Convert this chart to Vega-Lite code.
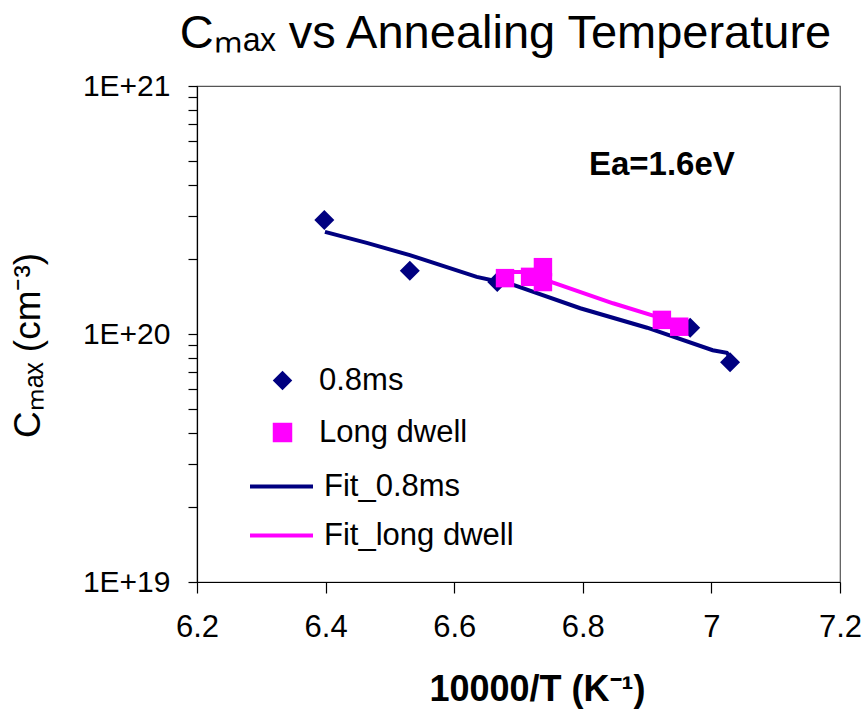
{
  "$schema": "https://vega.github.io/schema/vega-lite/v6.json",
  "width": 643,
  "height": 496,
  "autosize": "none",
  "padding": {"left": 197, "top": 86, "right": 27, "bottom": 130},
  "background": "white",
  "title": {
    "text": "Cₘₐₓ vs Annealing Temperature",
    "fontSize": 47,
    "font": "Liberation Sans",
    "fontWeight": "normal",
    "color": "#000",
    "anchor": "middle",
    "frame": "group",
    "baseline": "bottom",
    "dx": -13,
    "offset": -34
  },
  "config": {
    "font": "Liberation Sans",
    "view": {"stroke": "#555", "strokeWidth": 1.2},
    "axis": {"grid": false, "domainColor": "#000", "tickColor": "#000", "labelColor": "#000", "titleColor": "#000", "labelFont": "Liberation Sans", "titleFont": "Liberation Sans", "domainWidth": 1.2, "tickWidth": 1.2},
    "legend": {"labelFont": "Liberation Sans", "labelColor": "#000", "labelFontSize": 31, "labelLimit": 0, "title": null}
  },
  "datasets": {
    "pts": [
      {"x": 6.398, "c": 2.88e20, "series": "0.8ms"},
      {"x": 6.531, "c": 1.80e20, "series": "0.8ms"},
      {"x": 6.667, "c": 1.62e20, "series": "0.8ms"},
      {"x": 6.967, "c": 1.06e20, "series": "0.8ms"},
      {"x": 7.029, "c": 7.7e19, "series": "0.8ms"},
      {"x": 6.679, "c": 1.68e20, "series": "Long dwell"},
      {"x": 6.718, "c": 1.70e20, "series": "Long dwell"},
      {"x": 6.738, "c": 1.86e20, "series": "Long dwell"},
      {"x": 6.738, "c": 1.62e20, "series": "Long dwell"},
      {"x": 6.923, "c": 1.14e20, "series": "Long dwell"},
      {"x": 6.950, "c": 1.07e20, "series": "Long dwell"}
    ],
    "fits": [
      {"x": 6.399, "c": 2.58e20, "series": "Fit_0.8ms"},
      {"x": 6.464, "c": 2.33e20, "series": "Fit_0.8ms"},
      {"x": 6.531, "c": 2.08e20, "series": "Fit_0.8ms"},
      {"x": 6.635, "c": 1.70e20, "series": "Fit_0.8ms"},
      {"x": 6.691, "c": 1.58e20, "series": "Fit_0.8ms"},
      {"x": 6.796, "c": 1.27e20, "series": "Fit_0.8ms"},
      {"x": 6.900, "c": 1.06e20, "series": "Fit_0.8ms"},
      {"x": 7.002, "c": 8.6e19, "series": "Fit_0.8ms"},
      {"x": 7.024, "c": 8.4e19, "series": "Fit_0.8ms"},
      {"x": 7.030, "c": 8.0e19, "series": "Fit_0.8ms"},
      {"x": 6.679, "c": 1.78e20, "series": "Fit_long dwell"},
      {"x": 6.718, "c": 1.78e20, "series": "Fit_long dwell"},
      {"x": 6.754, "c": 1.61e20, "series": "Fit_long dwell"},
      {"x": 6.847, "c": 1.33e20, "series": "Fit_long dwell"},
      {"x": 6.908, "c": 1.19e20, "series": "Fit_long dwell"},
      {"x": 6.951, "c": 1.07e20, "series": "Fit_long dwell"}
    ],
    "notes": [
      {"x": 6.923, "c": 4.8e20, "label": "Ea=1.6eV"}
    ]
  },
  "encoding": {
    "x": {
      "field": "x", "type": "quantitative",
      "scale": {"domain": [6.2, 7.2], "nice": false, "zero": false},
      "axis": {
        "values": [6.2, 6.4, 6.6, 6.8, 7.0, 7.2],
        "format": ".1~f",
        "labelFontSize": 31,
        "labelPadding": 19,
        "tickSize": 11,
        "labelFlush": false,
        "title": "10000/T (K⁻¹)",
        "titleFontSize": 36,
        "titleFontWeight": "bold",
        "titleX": 340,
        "titleY": 118,
        "titleAlign": "center",
        "titleBaseline": "alphabetic"
      }
    },
    "y": {
      "field": "c", "type": "quantitative",
      "scale": {"type": "log", "domain": [1e19, 1e21], "nice": false},
      "axis": {
        "values": [1e19, 2e19, 3e19, 4e19, 5e19, 6e19, 7e19, 8e19, 9e19, 1e20, 2e20, 3e20, 4e20, 5e20, 6e20, 7e20, 8e20, 9e20, 1e21],
        "labelExpr": "abs(log(datum.value)/LN10 - round(log(datum.value)/LN10)) < 0.001 ? '1E+' + round(log(datum.value)/LN10) : ''",
        "labelFontSize": 30,
        "labelPadding": 18,
        "tickSize": 9,
        "title": "Cₘₐₓ (cm⁻³)",
        "titleFontSize": 37,
        "titleFontWeight": "normal",
        "titleAngle": -90,
        "titleX": -169,
        "titleY": 259,
        "titleAlign": "center",
        "titleBaseline": "middle"
      }
    }
  },
  "layer": [
    {
      "data": {"name": "pts"},
      "transform": [{"filter": "datum.series == '0.8ms'"}],
      "mark": {"type": "point", "filled": true, "opacity": 1, "size": 400},
      "encoding": {
        "color": {
          "field": "series", "type": "nominal",
          "scale": {"domain": ["0.8ms", "Long dwell"], "range": ["#000080", "#FF00FF"]},
          "legend": {
            "orient": "none",
            "legendX": 70,
            "legendY": 279,
            "labelOffset": 21,
            "rowPadding": 20,
            "symbolSize": 380,
            "symbolOpacity": 1
          }
        },
        "shape": {
          "field": "series", "type": "nominal",
          "scale": {"domain": ["0.8ms", "Long dwell"], "range": ["diamond", "square"]}
        }
      }
    },
    {
      "data": {"name": "fits"},
      "transform": [{"filter": "datum.series == 'Fit_0.8ms'"}],
      "mark": {"type": "line", "strokeWidth": 4, "interpolate": "linear"},
      "encoding": {
        "stroke": {
          "field": "series", "type": "nominal",
          "scale": {"domain": ["Fit_0.8ms", "Fit_long dwell"], "range": ["#000080", "#FF00FF"]},
          "legend": {
            "orient": "none",
            "legendX": 51,
            "legendY": 367,
            "labelOffset": 9,
            "rowPadding": -16,
            "symbolType": "stroke",
            "symbolSize": 3969,
            "symbolStrokeWidth": 4
          }
        },
        "order": {"field": "x", "type": "quantitative"}
      }
    },
    {
      "data": {"name": "pts"},
      "transform": [{"filter": "datum.series == 'Long dwell'"}],
      "mark": {"type": "point", "filled": true, "opacity": 1, "size": 340},
      "encoding": {
        "color": {"field": "series", "type": "nominal"},
        "shape": {"field": "series", "type": "nominal"}
      }
    },
    {
      "data": {"name": "fits"},
      "transform": [{"filter": "datum.series == 'Fit_long dwell'"}],
      "mark": {"type": "line", "strokeWidth": 4, "interpolate": "linear"},
      "encoding": {
        "stroke": {"field": "series", "type": "nominal"},
        "order": {"field": "x", "type": "quantitative"}
      }
    },
    {
      "data": {"name": "notes"},
      "mark": {"type": "text", "fontSize": 33, "fontWeight": "bold", "font": "Liberation Sans", "color": "#000", "align": "center", "baseline": "middle"},
      "encoding": {
        "text": {"field": "label"}
      }
    }
  ]
}
